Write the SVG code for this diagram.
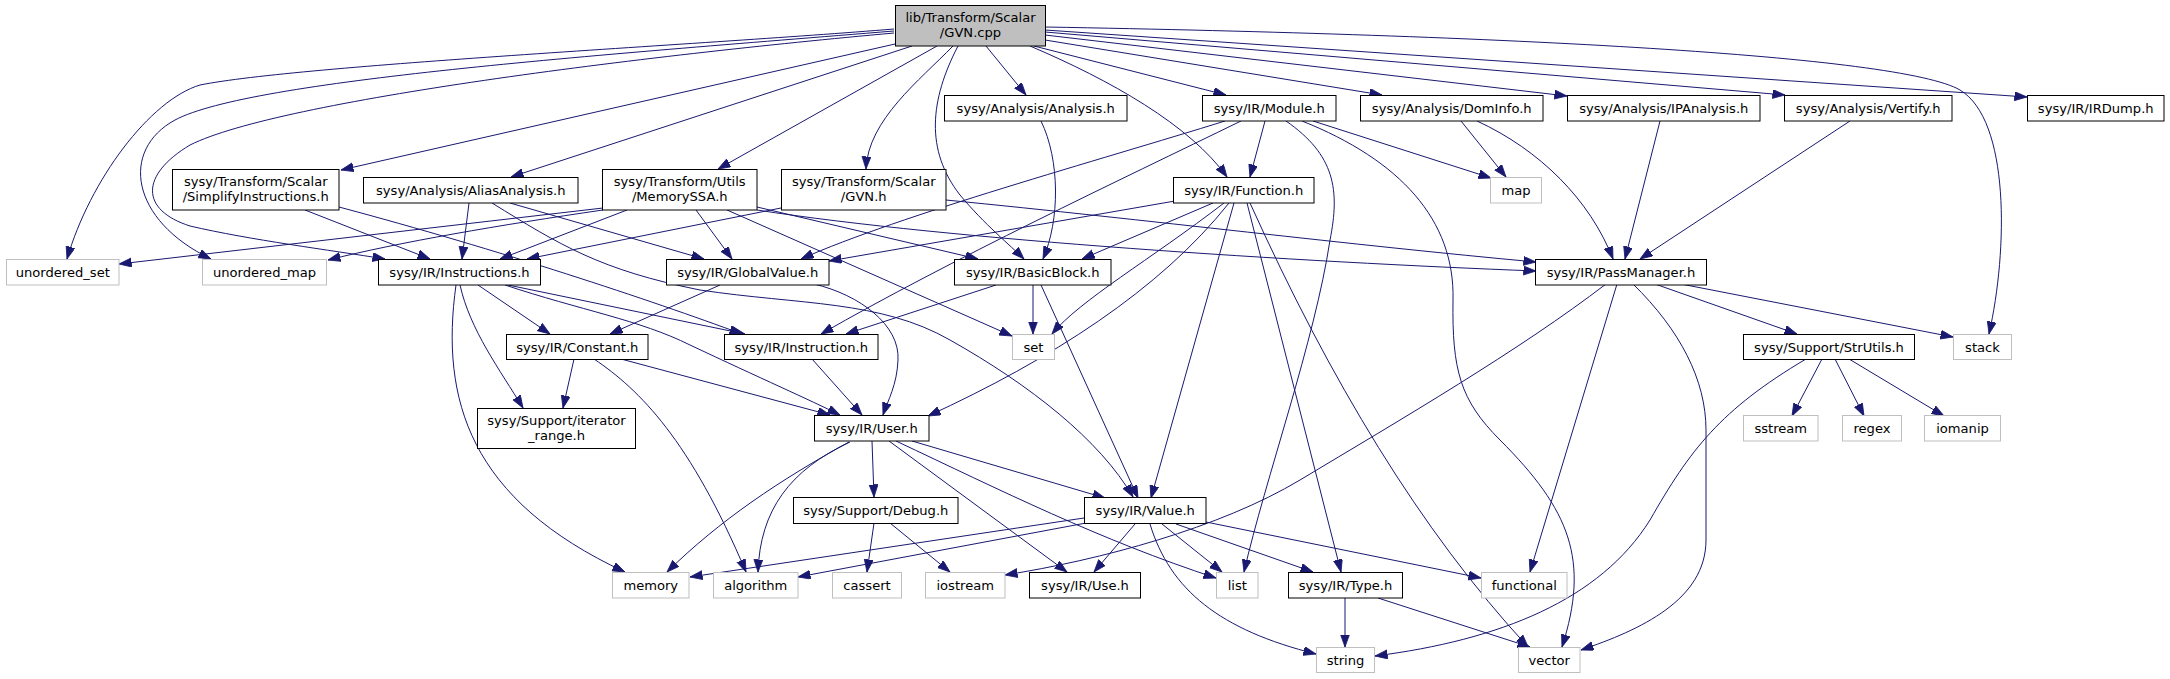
<svg xmlns="http://www.w3.org/2000/svg" width="2170" height="679" viewBox="0 0 2170 679">
<style>
.n rect{fill:#fff;stroke:#000;stroke-width:1}
.x rect{fill:#fff;stroke:#bfbfbf;stroke-width:1}
.r rect{fill:#bfbfbf;stroke:#000;stroke-width:1}
text{font-family:"DejaVu Sans","Liberation Sans",sans-serif;font-size:13.1px;fill:#000;text-anchor:middle}
#edges path{fill:none;stroke:#191970;stroke-width:1;marker-end:url(#a)}
</style>
<defs>
<marker id="a" markerUnits="userSpaceOnUse" markerWidth="14" markerHeight="10" refX="12.5" refY="4.5" orient="auto">
<path d="M0,0 L12.5,4.5 L0,9 Z" fill="#191970" stroke="#191970" stroke-width="0.8"/>
</marker>
</defs>
<rect width="2170" height="679" fill="#fff"/>
<g id="edges">
<path d="M894,29 C700,45 300,65 200,85 C150,100 90,180 67,259"/>
<path d="M894,31 C600,55 250,80 175,120 C120,150 130,220 211,259"/>
<path d="M894,33 C650,55 280,100 190,145 C140,175 140,210 190,226 C250,240 330,250 385,259"/>
<path d="M895,44 L341,170"/>
<path d="M912,46 L511,177"/>
<path d="M937,46 L718,169"/>
<path d="M953,46 C920,80 868,120 866,169"/>
<path d="M958,46 C930,100 925,150 960,195 C985,225 1010,245 1024,259"/>
<path d="M986,46 L1026,95"/>
<path d="M1034,46 L1226,95"/>
<path d="M1030,46 C1110,80 1190,125 1227,177"/>
<path d="M1045,40 L1382,95"/>
<path d="M1045,35 L1567,96"/>
<path d="M1045,32 L1785,95"/>
<path d="M1045,30 L2027,97"/>
<path d="M1045,27 C1500,35 1900,55 1960,90 C2010,120 2008,250 1989,334"/>
<path d="M305,210 L430,259"/>
<path d="M339,207 C500,250 650,300 742,334"/>
<path d="M469,203 L462,259"/>
<path d="M510,203 L704,259"/>
<path d="M492,203 C560,245 600,270 700,290 C800,305 880,300 950,340 C1030,385 1100,440 1133,497"/>
<path d="M603,208 L119,264"/>
<path d="M603,210 C500,225 400,242 328,260"/>
<path d="M627,210 L500,259"/>
<path d="M696,210 L732,259"/>
<path d="M757,207 L978,259"/>
<path d="M727,210 L1012,336"/>
<path d="M757,210 C950,240 1300,262 1536,271"/>
<path d="M781,208 L527,259"/>
<path d="M946,200 C1150,220 1350,245 1536,262"/>
<path d="M1041,121 C1060,160 1060,220 1043,259"/>
<path d="M1265,121 L1250,177"/>
<path d="M1225,121 C1100,160 900,215 801,259"/>
<path d="M1241,121 C1120,180 950,260 821,334"/>
<path d="M1286,121 C1335,155 1340,190 1330,240 C1315,340 1265,480 1244,572"/>
<path d="M1313,121 L1491,178"/>
<path d="M1302,121 C1400,160 1455,220 1453,300 C1452,370 1460,400 1500,440 C1570,510 1590,560 1562,647"/>
<path d="M1175,201 L829,261"/>
<path d="M1213,203 L1082,259"/>
<path d="M1224,203 C1150,260 1080,300 1052,334"/>
<path d="M1229,203 C1160,290 1050,360 928,416"/>
<path d="M1234,203 L1151,498"/>
<path d="M1247,203 L1341,572"/>
<path d="M1250,203 C1330,380 1420,530 1528,647"/>
<path d="M478,285 L550,334"/>
<path d="M508,285 L745,334"/>
<path d="M505,285 C580,310 640,320 690,345 C760,378 810,400 840,415"/>
<path d="M460,285 C470,330 500,370 523,408"/>
<path d="M456,285 C440,400 470,500 625,572"/>
<path d="M720,285 L610,334"/>
<path d="M814,284 C860,295 900,325 898,360 C897,385 888,400 883,415"/>
<path d="M996,285 L846,334"/>
<path d="M1033,285 L1033,334"/>
<path d="M1041,285 L1138,498"/>
<path d="M1461,121 L1506,177"/>
<path d="M1477,121 C1540,150 1590,200 1613,259"/>
<path d="M1660,121 L1625,259"/>
<path d="M1850,121 L1640,259"/>
<path d="M1655,284 L1797,334"/>
<path d="M1681,284 L1953,337"/>
<path d="M1606,284 C1520,350 1400,420 1300,480 C1220,528 1100,560 1005,575"/>
<path d="M1617,284 L1530,572"/>
<path d="M1633,284 C1680,330 1706,380 1706,430 L1706,540 C1706,600 1640,630 1581,650"/>
<path d="M1822,359 L1792,416"/>
<path d="M1835,359 L1864,416"/>
<path d="M1849,359 L1944,416"/>
<path d="M1806,359 C1720,410 1690,450 1650,520 C1600,600 1500,640 1375,656"/>
<path d="M574,359 L563,408"/>
<path d="M621,359 L830,415"/>
<path d="M594,359 C640,390 690,440 746,572"/>
<path d="M812,359 L862,415"/>
<path d="M872,441 L874,497"/>
<path d="M849,442 C780,480 720,520 667,572"/>
<path d="M850,442 C790,470 760,510 758,572"/>
<path d="M889,441 L1067,572"/>
<path d="M896,441 C1000,490 1100,540 1216,578"/>
<path d="M912,441 L1105,498"/>
<path d="M874,523 L867,572"/>
<path d="M890,523 L950,572"/>
<path d="M1084,518 L690,577"/>
<path d="M1086,523 L798,577"/>
<path d="M1135,524 L1094,572"/>
<path d="M1162,524 L1222,572"/>
<path d="M1176,524 L1313,572"/>
<path d="M1206,522 L1481,578"/>
<path d="M1150,524 C1170,590 1220,630 1316,654"/>
<path d="M1345,598 L1345,647"/>
<path d="M1378,598 L1530,647"/>
</g>
<g id="n_gvncpp" class="r"><rect x="895.5" y="5.5" width="150" height="40.5"/><text x="970.5" y="22">lib/Transform/Scalar</text><text x="970.5" y="37">/GVN.cpp</text></g>
<g id="n_analysis" class="n"><rect x="944.5" y="95.5" width="182.5" height="25.5"/><text x="1035.75" y="113">sysy/Analysis/Analysis.h</text></g>
<g id="n_module" class="n"><rect x="1202.5" y="95.5" width="133.5" height="25.5"/><text x="1269.25" y="113">sysy/IR/Module.h</text></g>
<g id="n_dominfo" class="n"><rect x="1360.5" y="95.5" width="182.5" height="25.5"/><text x="1451.75" y="113">sysy/Analysis/DomInfo.h</text></g>
<g id="n_ipanalysis" class="n"><rect x="1567.5" y="95.5" width="192.5" height="25.5"/><text x="1663.75" y="113">sysy/Analysis/IPAnalysis.h</text></g>
<g id="n_vertify" class="n"><rect x="1784.5" y="95.5" width="167.5" height="25.5"/><text x="1868.25" y="113">sysy/Analysis/Vertify.h</text></g>
<g id="n_irdump" class="n"><rect x="2027.5" y="95.5" width="136.5" height="25.5"/><text x="2095.75" y="113">sysy/IR/IRDump.h</text></g>
<g id="n_simplify" class="n"><rect x="172.5" y="169.5" width="166.5" height="40.5"/><text x="255.75" y="186">sysy/Transform/Scalar</text><text x="255.75" y="201">/SimplifyInstructions.h</text></g>
<g id="n_alias" class="n"><rect x="363.5" y="177.5" width="214.5" height="25.5"/><text x="470.75" y="195">sysy/Analysis/AliasAnalysis.h</text></g>
<g id="n_memssa" class="n"><rect x="602.5" y="169.5" width="154.5" height="40.5"/><text x="679.75" y="186">sysy/Transform/Utils</text><text x="679.75" y="201">/MemorySSA.h</text></g>
<g id="n_gvnh" class="n"><rect x="781.5" y="169.5" width="164.5" height="40.5"/><text x="863.75" y="186">sysy/Transform/Scalar</text><text x="863.75" y="201">/GVN.h</text></g>
<g id="n_function" class="n"><rect x="1173.5" y="177.5" width="140.5" height="25.5"/><text x="1243.75" y="195">sysy/IR/Function.h</text></g>
<g id="n_map" class="x"><rect x="1490.5" y="177.5" width="51" height="25.5"/><text x="1516" y="195">map</text></g>
<g id="n_uset" class="x"><rect x="6.5" y="259.5" width="112.5" height="25.5"/><text x="62.75" y="277">unordered_set</text></g>
<g id="n_umap" class="x"><rect x="202.5" y="259.5" width="124" height="25.5"/><text x="264.5" y="277">unordered_map</text></g>
<g id="n_instructions" class="n"><rect x="378.5" y="259.5" width="162" height="25.5"/><text x="459.5" y="277">sysy/IR/Instructions.h</text></g>
<g id="n_globalvalue" class="n"><rect x="666.5" y="259.5" width="162.5" height="25.5"/><text x="747.75" y="277">sysy/IR/GlobalValue.h</text></g>
<g id="n_basicblock" class="n"><rect x="954.5" y="259.5" width="156.5" height="25.5"/><text x="1032.75" y="277">sysy/IR/BasicBlock.h</text></g>
<g id="n_passmanager" class="n"><rect x="1535.5" y="259.5" width="171" height="25.5"/><text x="1621" y="277">sysy/IR/PassManager.h</text></g>
<g id="n_constant" class="n"><rect x="506.5" y="334.5" width="141.5" height="25"/><text x="577.25" y="351.5">sysy/IR/Constant.h</text></g>
<g id="n_instruction" class="n"><rect x="724.5" y="334.5" width="153.5" height="25"/><text x="801.25" y="351.5">sysy/IR/Instruction.h</text></g>
<g id="n_set" class="x"><rect x="1012.5" y="334.5" width="42" height="25"/><text x="1033.5" y="351.5">set</text></g>
<g id="n_strutils" class="n"><rect x="1743.5" y="334.5" width="171" height="25"/><text x="1829" y="351.5">sysy/Support/StrUtils.h</text></g>
<g id="n_stack" class="x"><rect x="1953.5" y="334.5" width="58" height="25"/><text x="1982.5" y="351.5">stack</text></g>
<g id="n_iterrange" class="n"><rect x="477.5" y="408.5" width="158" height="40"/><text x="556.5" y="425">sysy/Support/iterator</text><text x="556.5" y="440">_range.h</text></g>
<g id="n_user" class="n"><rect x="814.5" y="415.5" width="114.5" height="25.5"/><text x="871.75" y="433">sysy/IR/User.h</text></g>
<g id="n_sstream" class="x"><rect x="1743.5" y="415.5" width="74.5" height="25.5"/><text x="1780.75" y="433">sstream</text></g>
<g id="n_regex" class="x"><rect x="1842.5" y="415.5" width="59" height="25.5"/><text x="1872" y="433">regex</text></g>
<g id="n_iomanip" class="x"><rect x="1924.5" y="415.5" width="76" height="25.5"/><text x="1962.5" y="433">iomanip</text></g>
<g id="n_debug" class="n"><rect x="793.5" y="497.5" width="164.5" height="26"/><text x="875.75" y="515">sysy/Support/Debug.h</text></g>
<g id="n_value" class="n"><rect x="1084.5" y="497.5" width="121.5" height="26"/><text x="1145.25" y="515">sysy/IR/Value.h</text></g>
<g id="n_memory" class="x"><rect x="612.5" y="572.5" width="76.5" height="25.5"/><text x="650.75" y="590">memory</text></g>
<g id="n_algorithm" class="x"><rect x="713.5" y="572.5" width="84.5" height="25.5"/><text x="755.75" y="590">algorithm</text></g>
<g id="n_cassert" class="x"><rect x="832.5" y="572.5" width="69" height="25.5"/><text x="867" y="590">cassert</text></g>
<g id="n_iostream" class="x"><rect x="925.5" y="572.5" width="79.5" height="25.5"/><text x="965.25" y="590">iostream</text></g>
<g id="n_use" class="n"><rect x="1029.5" y="572.5" width="111" height="25.5"/><text x="1085" y="590">sysy/IR/Use.h</text></g>
<g id="n_list" class="x"><rect x="1216.5" y="572.5" width="41.5" height="25.5"/><text x="1237.25" y="590">list</text></g>
<g id="n_type" class="n"><rect x="1288.5" y="572.5" width="114" height="25.5"/><text x="1345.5" y="590">sysy/IR/Type.h</text></g>
<g id="n_functional" class="x"><rect x="1481.5" y="572.5" width="85.5" height="25.5"/><text x="1524.25" y="590">functional</text></g>
<g id="n_string" class="x"><rect x="1316.5" y="647.5" width="58" height="25"/><text x="1345.5" y="664.5">string</text></g>
<g id="n_vector" class="x"><rect x="1518.5" y="647.5" width="61.5" height="25"/><text x="1549.25" y="664.5">vector</text></g>
</svg>
